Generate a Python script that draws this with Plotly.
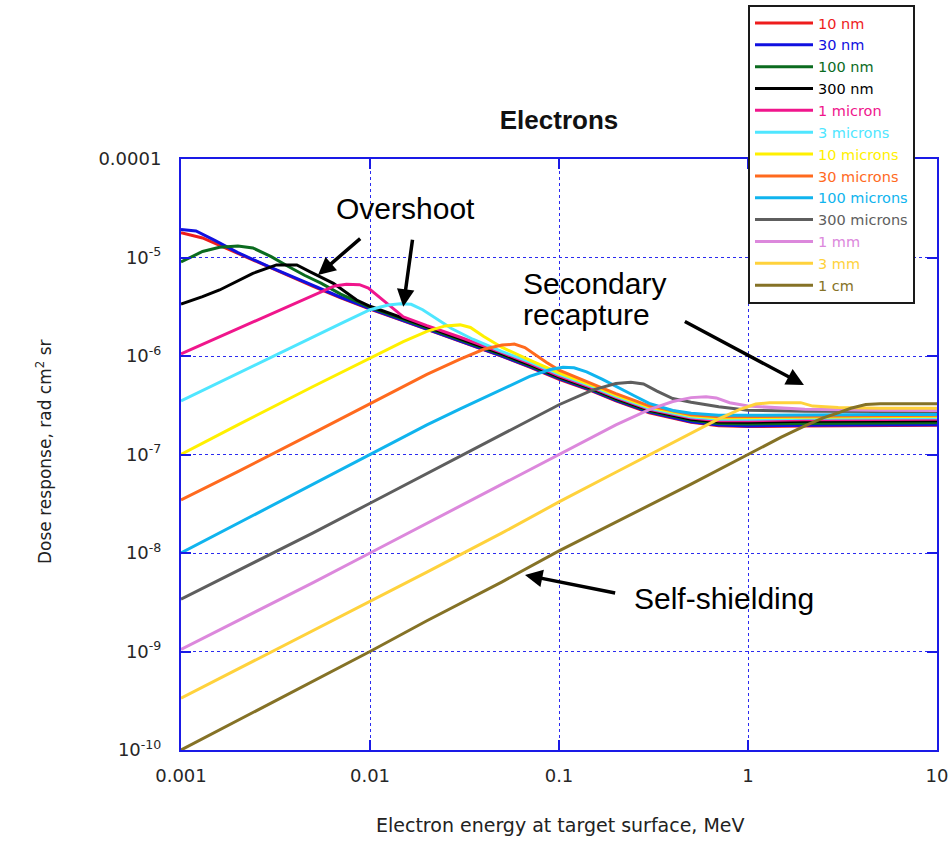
import plotly.graph_objects as go

# ---- data ----
labels = ["10 nm", "30 nm", "100 nm", "300 nm", "1 micron", "3 microns", "10 microns",
          "30 microns", "100 microns", "300 microns", "1 mm", "3 mm", "1 cm"]
colors = ["#ee1c1c", "#1010e0", "#0b6b1f", "#000000", "#f0168c", "#4fe6ff", "#fff000",
          "#ff6a1e", "#10b4ee", "#5e5e5e", "#dc88dc", "#ffd23c", "#857226"]

e_10nm = [0.001, 0.0013, 0.002, 0.003, 0.005, 0.007, 0.01, 0.015, 0.02, 0.03, 0.05, 0.07, 0.1, 0.15, 0.2, 0.3, 0.5, 0.7, 1, 2, 5, 10]
d_10nm = [1.78e-5, 1.58e-5, 1.1e-5, 7.8e-6, 5.1e-6, 3.9e-6, 3.0e-6, 2.28e-6, 1.87e-6, 1.42e-6, 9.9e-7, 7.7e-7, 5.8e-7, 4.4e-7, 3.5e-7, 2.65e-7, 2.12e-7, 1.96e-7, 1.92e-7, 1.95e-7, 1.97e-7, 1.98e-7]

e_30nm = [0.001, 0.0012, 0.0015, 0.002, 0.003, 0.005, 0.007, 0.01, 0.015, 0.02, 0.03, 0.05, 0.07, 0.1, 0.15, 0.2, 0.3, 0.5, 0.7, 1, 2, 5, 10]
d_30nm = [1.92e-5, 1.86e-5, 1.5e-5, 1.12e-5, 7.9e-6, 5.15e-6, 3.95e-6, 3.03e-6, 2.3e-6, 1.89e-6, 1.44e-6, 1.0e-6, 7.8e-7, 5.88e-7, 4.46e-7, 3.55e-7, 2.69e-7, 2.15e-7, 1.99e-7, 1.95e-7, 1.98e-7, 2.0e-7, 2.0e-7]

e_100nm = [0.001, 0.0013, 0.0016, 0.002, 0.0024, 0.003, 0.0037, 0.0045, 0.0055, 0.007, 0.01, 0.015, 0.02, 0.03, 0.05, 0.07, 0.1, 0.15, 0.2, 0.3, 0.5, 0.7, 1, 2, 5, 10]
d_100nm = [9.0e-6, 1.15e-5, 1.27e-5, 1.31e-5, 1.25e-5, 1.02e-5, 8.1e-6, 6.6e-6, 5.5e-6, 4.25e-6, 3.12e-6, 2.37e-6, 1.94e-6, 1.48e-6, 1.03e-6, 8.0e-7, 6.03e-7, 4.57e-7, 3.64e-7, 2.76e-7, 2.22e-7, 2.07e-7, 2.04e-7, 2.07e-7, 2.09e-7, 2.1e-7]

e_300nm = [0.001, 0.0013, 0.0016, 0.002, 0.0024, 0.0032, 0.0041, 0.0048, 0.0064, 0.0085, 0.01, 0.015, 0.02, 0.03, 0.05, 0.07, 0.1, 0.15, 0.2, 0.3, 0.5, 0.7, 1, 2, 5, 10]
d_300nm = [3.37e-6, 4.0e-6, 4.68e-6, 5.75e-6, 6.9e-6, 8.4e-6, 8.4e-6, 7.2e-6, 5.47e-6, 3.7e-6, 3.2e-6, 2.42e-6, 1.98e-6, 1.51e-6, 1.05e-6, 8.2e-7, 6.15e-7, 4.66e-7, 3.72e-7, 2.82e-7, 2.28e-7, 2.14e-7, 2.13e-7, 2.17e-7, 2.19e-7, 2.2e-7]

e_1um = [0.001, 0.002, 0.003, 0.0045, 0.0055, 0.0065, 0.0075, 0.0088, 0.0098, 0.011, 0.0125, 0.015, 0.02, 0.03, 0.05, 0.07, 0.1, 0.15, 0.2, 0.3, 0.5, 0.7, 1, 2, 5, 10]
d_1um = [1.05e-6, 1.89e-6, 2.67e-6, 3.77e-6, 4.5e-6, 5.15e-6, 5.35e-6, 5.3e-6, 4.9e-6, 4.1e-6, 3.3e-6, 2.5e-6, 2.03e-6, 1.55e-6, 1.08e-6, 8.4e-7, 6.3e-7, 4.76e-7, 3.8e-7, 2.88e-7, 2.34e-7, 2.2e-7, 2.2e-7, 2.25e-7, 2.27e-7, 2.28e-7]

e_3um = [0.001, 0.002, 0.003, 0.005, 0.007, 0.01, 0.0125, 0.0145, 0.0165, 0.019, 0.0225, 0.027, 0.035, 0.05, 0.07, 0.1, 0.15, 0.2, 0.3, 0.5, 0.7, 1, 2, 5, 10]
d_3um = [3.5e-7, 6.7e-7, 9.7e-7, 1.56e-6, 2.13e-6, 2.95e-6, 3.3e-6, 3.4e-6, 3.35e-6, 2.95e-6, 2.4e-6, 1.9e-6, 1.48e-6, 1.11e-6, 8.7e-7, 6.5e-7, 4.9e-7, 3.9e-7, 2.95e-7, 2.4e-7, 2.28e-7, 2.28e-7, 2.33e-7, 2.35e-7, 2.36e-7]

e_10um = [0.001, 0.002, 0.005, 0.01, 0.015, 0.02, 0.025, 0.03, 0.034, 0.04, 0.05, 0.07, 0.1, 0.15, 0.2, 0.3, 0.5, 0.7, 1, 2, 5, 10]
d_10um = [1.0e-7, 2.0e-7, 4.9e-7, 9.6e-7, 1.4e-6, 1.78e-6, 2.02e-6, 2.07e-6, 1.95e-6, 1.58e-6, 1.22e-6, 9.1e-7, 6.75e-7, 5.05e-7, 4.02e-7, 3.03e-7, 2.47e-7, 2.35e-7, 2.36e-7, 2.42e-7, 2.44e-7, 2.45e-7]

e_30um = [0.001, 0.002, 0.005, 0.01, 0.02, 0.03, 0.04, 0.05, 0.058, 0.066, 0.075, 0.086, 0.1, 0.15, 0.2, 0.3, 0.5, 0.7, 1, 2, 5, 10]
d_30um = [3.45e-8, 6.7e-8, 1.65e-7, 3.26e-7, 6.5e-7, 9.3e-7, 1.17e-6, 1.29e-6, 1.32e-6, 1.22e-6, 1.03e-6, 8.6e-7, 7.2e-7, 5.25e-7, 4.15e-7, 3.12e-7, 2.53e-7, 2.42e-7, 2.43e-7, 2.48e-7, 2.5e-7, 2.5e-7]

e_100um = [0.001, 0.002, 0.005, 0.01, 0.02, 0.03, 0.05, 0.07, 0.09, 0.105, 0.12, 0.14, 0.17, 0.2, 0.25, 0.3, 0.4, 0.5, 0.7, 1, 2, 5, 10]
d_100um = [1.0e-8, 2.0e-8, 5.0e-8, 1.0e-7, 2.0e-7, 2.9e-7, 4.6e-7, 6.2e-7, 7.3e-7, 7.7e-7, 7.6e-7, 6.9e-7, 5.8e-7, 4.9e-7, 3.95e-7, 3.3e-7, 2.8e-7, 2.62e-7, 2.5e-7, 2.5e-7, 2.53e-7, 2.55e-7, 2.55e-7]

e_300um = [0.001, 0.002, 0.005, 0.01, 0.02, 0.05, 0.1, 0.15, 0.2, 0.24, 0.28, 0.33, 0.4, 0.5, 0.7, 1, 2, 5, 10]
d_300um = [3.4e-9, 6.6e-9, 1.6e-8, 3.2e-8, 6.4e-8, 1.62e-7, 3.2e-7, 4.5e-7, 5.25e-7, 5.4e-7, 5.2e-7, 4.4e-7, 3.7e-7, 3.4e-7, 3.05e-7, 2.82e-7, 2.75e-7, 2.73e-7, 2.73e-7]

e_1mm = [0.001, 0.002, 0.005, 0.01, 0.02, 0.05, 0.1, 0.2, 0.3, 0.4, 0.5, 0.6, 0.68, 0.8, 1, 1.5, 2, 5, 10]
d_1mm = [1.05e-9, 2.05e-9, 5.0e-9, 1.0e-8, 2.0e-8, 5.0e-8, 9.9e-8, 2.0e-7, 2.85e-7, 3.45e-7, 3.78e-7, 3.86e-7, 3.75e-7, 3.35e-7, 3.1e-7, 2.95e-7, 2.88e-7, 2.82e-7, 2.8e-7]

e_3mm = [0.001, 0.002, 0.005, 0.01, 0.02, 0.05, 0.1, 0.2, 0.5, 0.7, 0.9, 1.1, 1.3, 1.9, 2.2, 3, 5, 10]
d_3mm = [3.35e-10, 6.6e-10, 1.62e-9, 3.2e-9, 6.4e-9, 1.6e-8, 3.3e-8, 6.6e-8, 1.65e-7, 2.3e-7, 2.85e-7, 3.25e-7, 3.36e-7, 3.36e-7, 3.1e-7, 3.0e-7, 2.95e-7, 2.95e-7]

e_1cm = [0.001, 0.002, 0.005, 0.01, 0.02, 0.05, 0.1, 0.2, 0.5, 1, 1.5, 2, 2.5, 3, 3.5, 4.2, 5, 7, 10]
d_1cm = [1.0e-10, 2.0e-10, 5.0e-10, 1.0e-9, 2.05e-9, 5.1e-9, 1.05e-8, 2.05e-8, 5.0e-8, 1.0e-7, 1.5e-7, 1.95e-7, 2.35e-7, 2.65e-7, 2.95e-7, 3.22e-7, 3.28e-7, 3.28e-7, 3.28e-7]

energies = [e_10nm, e_30nm, e_100nm, e_300nm, e_1um, e_3um, e_10um, e_30um, e_100um, e_300um, e_1mm, e_3mm, e_1cm]
doses = [d_10nm, d_30nm, d_100nm, d_300nm, d_1um, d_3um, d_10um, d_30um, d_100um, d_300um, d_1mm, d_3mm, d_1cm]

x_tickvals = [0.001, 0.01, 0.1, 1, 10]
x_ticktext = ["0.001", "0.01", "0.1", "1", "10"]
y_tickvals = [1e-4, 1e-5, 1e-6, 1e-7, 1e-8, 1e-9, 1e-10]
y_ticktext = ["0.0001", "10<sup>-5</sup>", "10<sup>-6</sup>", "10<sup>-7</sup>",
              "10<sup>-8</sup>", "10<sup>-9</sup>", "10<sup>-10</sup>"]

FONT = "Liberation Sans, Arial, sans-serif"
WFONT = "DejaVu Sans, Verdana, sans-serif"
AXCOL = "#1a1ae6"
GRIDCOL = "#2b2bf0"

fig = go.Figure()
for lab, col, ex, dy in zip(labels, colors, energies, doses):
    fig.add_trace(go.Scatter(
        x=ex, y=dy, mode="lines",
        line=dict(color=col, width=3),
        name=f'<span style="color:{col}">{lab}</span>',
        hoverinfo="skip",
    ))

axis_common = dict(
    type="log", showline=True, linecolor=AXCOL, linewidth=2, mirror="ticks",
    ticks="inside", ticklen=10, tickwidth=2, tickcolor=AXCOL,
    showgrid=True, gridcolor=GRIDCOL, gridwidth=1, griddash="dot",
    zeroline=False, automargin=False,
    tickfont=dict(family=WFONT, size=18, color="#262626"),
)

fig.update_layout(
    template="none",
    width=951, height=856,
    margin=dict(l=181, r=14, t=159, b=106, autoexpand=False),
    paper_bgcolor="white", plot_bgcolor="white",
    font=dict(family=FONT, color="#222"),
    title=dict(text="<b>Electrons</b>", x=0.5, xref="paper", xanchor="center",
               y=1 - 120 / 856, yanchor="middle",
               font=dict(family=FONT, size=26, color="#111")),
    xaxis=dict(range=[-3, 1], tickvals=x_tickvals, ticktext=x_ticktext,
               ticklabelstandoff=8, **axis_common),
    yaxis=dict(range=[-10, -4], tickvals=y_tickvals, ticktext=y_ticktext,
               ticklabelstandoff=14, **axis_common),
    showlegend=True,
    legend=dict(x=(748 - 181) / 756, y=(750 - 5) / 591, xanchor="left", yanchor="top",
                bgcolor="white", bordercolor="#1a1a1a", borderwidth=2,
                font=dict(family=WFONT, size=14.5), tracegroupgap=0,
                itemwidth=58),
)

# axis titles as annotations for precise placement
fig.add_annotation(text="Electron energy at target surface, MeV", xref="paper", yref="paper",
                   x=(560 - 181) / 756, y=(750 - 838) / 591, showarrow=False,
                   font=dict(family=WFONT, size=19, color="#222"))
fig.add_annotation(text="Dose response, rad cm<sup>2</sup> sr", xref="paper", yref="paper",
                   x=(31 - 181) / 756, y=(750 - 452) / 591, showarrow=False, textangle=-90,
                   font=dict(family=WFONT, size=17, color="#222"))

# text labels
def ptxt(text, px, py, size=30, xanchor="center"):
    fig.add_annotation(text=text, xref="paper", yref="paper",
                       x=(px - 181) / 756, y=(750 - py) / 591, showarrow=False,
                       xanchor=xanchor, yanchor="middle",
                       font=dict(family=FONT, size=size, color="#000"))

ptxt("Overshoot", 405, 208)
ptxt("Secondary", 521, 283, xanchor="left")
ptxt("recapture", 521, 314, xanchor="left")
ptxt("Self-shielding", 724, 598)

# arrows (head, tail) in log10 data coordinates
arrows = [
    ((-2.275, -5.178), (-2.044, -4.795)),
    ((-1.824, -5.4995), (-1.774, -4.805)),
    ((0.296, -6.294), (-0.342, -5.642)),
    ((-1.180, -8.223), (-0.695, -8.409)),
]
for (hx, hy), (tx, ty) in arrows:
    fig.add_annotation(x=hx, y=hy, ax=tx, ay=ty, xref="x", yref="y", axref="x", ayref="y",
                       text="", showarrow=True, arrowhead=2, arrowsize=1.0,
                       arrowwidth=3.5, arrowcolor="#000")

fig.write_html("out.html")
